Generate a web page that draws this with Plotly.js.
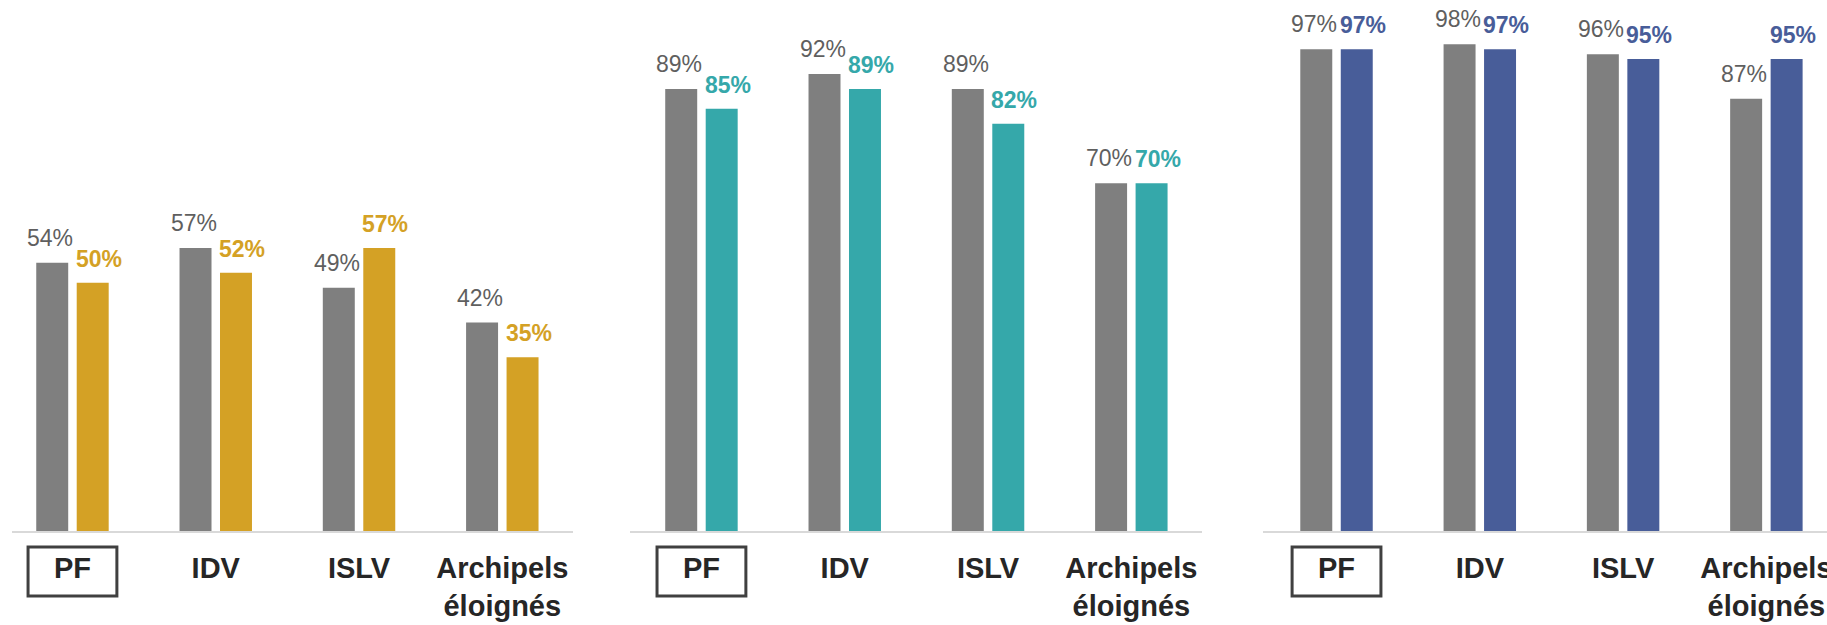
<!DOCTYPE html>
<html>
<head>
<meta charset="utf-8">
<script src="https://cdn.plot.ly/plotly-3.0.1.min.js"></script>
<style>html,body{margin:0;padding:0;background:#fff;}#chart{width:1827px;height:625px;}</style>
</head>
<body>
<div id="chart"></div>
<script>
// Categories (tick labels)
const categories = ['PF', 'IDV', 'ISLV', 'Archipels<br>éloignés'];

// Panel 1 (gold)
const panel1Grey = [54, 57, 49, 42];
const panel1Gold = [50, 52, 57, 35];
// Panel 2 (teal)
const panel2Grey = [89, 92, 89, 70];
const panel2Teal = [85, 89, 82, 70];
// Panel 3 (blue)
const panel3Grey = [97, 98, 96, 87];
const panel3Blue = [97, 97, 95, 95];

const GREY = '#7f7f7f';
const GREY_TXT = '#5f5f5f';
const GOLD = '#d4a125';
const TEAL = '#35a8aa';
const BLUE = '#485d99';
const FONT = '"Liberation Sans", Arial, sans-serif';

const panels = [
  {grey: panel1Grey, col: panel1Gold, color: GOLD, xa: 'x', ya: 'y'},
  {grey: panel2Grey, col: panel2Teal, color: TEAL, xa: 'x2', ya: 'y2'},
  {grey: panel3Grey, col: panel3Blue, color: BLUE, xa: 'x3', ya: 'y3'}
];

const traces = [];
const annotations = [];
const shapes = [];
const OFF = 20.2;

panels.forEach(p => {
  traces.push({type: 'bar', x: categories, y: p.grey, xaxis: p.xa, yaxis: p.ya,
    marker: {color: GREY}, hoverinfo: 'x+y'});
  traces.push({type: 'bar', x: categories, y: p.col, xaxis: p.xa, yaxis: p.ya,
    marker: {color: p.color}, hoverinfo: 'x+y'});
  categories.forEach((c, i) => {
    annotations.push({xref: p.xa, yref: p.ya, x: c, y: p.grey[i], xshift: -OFF - 2, yshift: 10,
      yanchor: 'bottom', xanchor: 'center', showarrow: false, text: p.grey[i] + '%',
      font: {family: FONT, size: 23, color: GREY_TXT}});
    annotations.push({xref: p.xa, yref: p.ya, x: c, y: p.col[i], xshift: OFF + 6, yshift: 9,
      yanchor: 'bottom', xanchor: 'center', showarrow: false, text: '<b>' + p.col[i] + '%</b>',
      font: {family: FONT, size: 23, color: p.color}});
  });
  shapes.push({type: 'rect', xref: p.xa, yref: 'paper', x0: -0.31, x1: 0.31, y0: 0.0464, y1: 0.1248,
    line: {color: '#404040', width: 3}, fillcolor: 'rgba(0,0,0,0)'});
});

function xaxis(domain, range) {
  return {domain: domain, range: range, type: 'category', showgrid: false, zeroline: false,
    showline: true, linecolor: '#d9d9d9', linewidth: 2, ticks: '', ticklabelstandoff: 10,
    tickfont: {family: FONT, size: 29, color: '#262626', weight: 'bold'}, fixedrange: true};
}
function yaxis(anchor) {
  return {domain: [0.150, 0.9452], range: [0, 100], visible: false, anchor: anchor, fixedrange: true};
}

const layout = {
  width: 1827, height: 625,
  margin: {l: 0, r: 0, t: 0, b: 0},
  paper_bgcolor: '#ffffff', plot_bgcolor: '#ffffff',
  showlegend: false,
  barmode: 'group', bargap: 0.435, bargroupgap: 0.21,
  xaxis: Object.assign(xaxis([0.00657, 0.3136], [-0.422, 3.493]), {anchor: 'y'}),
  xaxis2: Object.assign(xaxis([0.3448, 0.6579], [-0.499, 3.493]), {anchor: 'y2'}),
  xaxis3: Object.assign(xaxis([0.6913, 1.0], [-0.513, 3.423]), {anchor: 'y3'}),
  yaxis: yaxis('x'), yaxis2: yaxis('x2'), yaxis3: yaxis('x3'),
  annotations: annotations,
  shapes: shapes
};

Plotly.newPlot('chart', traces, layout, {displayModeBar: false, staticPlot: true});
</script>
</body>
</html>
